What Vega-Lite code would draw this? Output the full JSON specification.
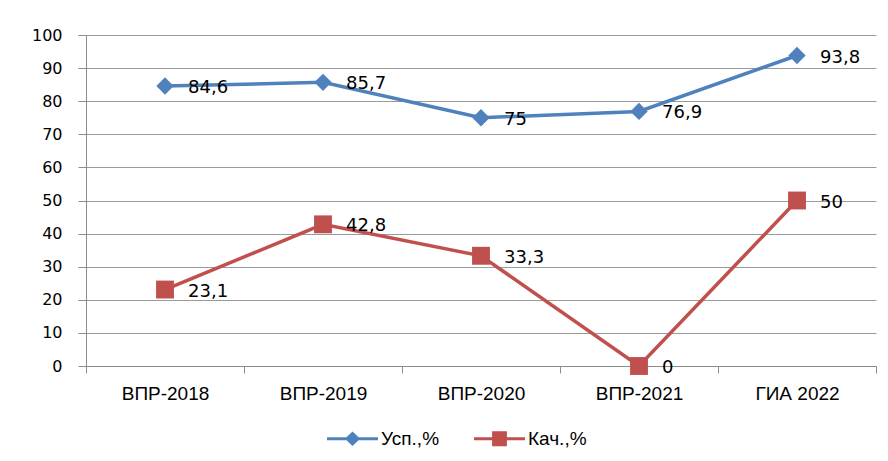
{
  "$schema": "https://vega.github.io/schema/vega-lite/v6.json",
  "autosize": {"type": "none"},
  "width": 790,
  "height": 331,
  "padding": {"left": 86, "top": 35, "right": 12, "bottom": 95},
  "background": "white",
  "data": {
    "values": [
      {"category": "ВПР-2018", "series": "Усп.,%", "value": 84.6, "label": "84,6"},
      {"category": "ВПР-2019", "series": "Усп.,%", "value": 85.7, "label": "85,7"},
      {"category": "ВПР-2020", "series": "Усп.,%", "value": 75, "label": "75"},
      {"category": "ВПР-2021", "series": "Усп.,%", "value": 76.9, "label": "76,9"},
      {"category": "ГИА 2022", "series": "Усп.,%", "value": 93.8, "label": "93,8"},
      {"category": "ВПР-2018", "series": "Кач.,%", "value": 23.1, "label": "23,1"},
      {"category": "ВПР-2019", "series": "Кач.,%", "value": 42.8, "label": "42,8"},
      {"category": "ВПР-2020", "series": "Кач.,%", "value": 33.3, "label": "33,3"},
      {"category": "ВПР-2021", "series": "Кач.,%", "value": 0, "label": "0"},
      {"category": "ГИА 2022", "series": "Кач.,%", "value": 50, "label": "50"}
    ]
  },
  "encoding": {
    "x": {
      "field": "category", "type": "nominal", "sort": null,
      "scale": {"paddingInner": 0, "paddingOuter": 0},
      "axis": {
        "title": null, "labelAngle": 0, "grid": false,
        "domainColor": "#8C8C8C", "tickColor": "#8C8C8C", "tickSize": 7,
        "tickBand": "extent", "labelFont": "Liberation Sans",
        "labelFontSize": 19, "labelColor": "#000000", "labelPadding": 11
      }
    },
    "y": {
      "field": "value", "type": "quantitative",
      "scale": {"domain": [0, 100], "nice": false, "zero": true},
      "axis": {
        "title": null, "values": [0,10,20,30,40,50,60,70,80,90,100],
        "gridColor": "#9A9A9A", "gridWidth": 1, "domainColor": "#8C8C8C",
        "tickColor": "#8C8C8C", "tickSize": 8, "labelFont": "DejaVu Sans",
        "labelFontSize": 16, "labelColor": "#000000", "labelPadding": 16
      }
    }
  },
  "layer": [
    {
      "mark": {"type": "line", "strokeWidth": 3.5},
      "encoding": {
        "color": {
          "field": "series", "type": "nominal",
          "scale": {"domain": ["Усп.,%", "Кач.,%"], "range": ["#4F81BD", "#C0504D"]},
          "legend": {
            "title": null, "orient": "none", "direction": "horizontal",
            "legendX": 241, "legendY": 378, "padding": 0,
            "labelFont": "Liberation Sans", "labelFontSize": 19,
            "labelColor": "#000000", "symbolSize": 2601, "columnPadding": 34, "labelOffset": 3,
            "encode": {
              "symbols": {
                "update": {
                  "shape": {"signal": "datum.value == 'Усп.,%' ? 'M-1,-0.06L1,-0.06L1,0.06L-1,0.06Z M0,-0.28L0.3,0L0,0.28L-0.3,0Z' : 'M-1,-0.06L1,-0.06L1,0.06L-1,0.06Z M-0.29,-0.29L0.29,-0.29L0.29,0.29L-0.29,0.29Z'"},
                  "fill": {"scale": "color", "field": "value"},
                  "strokeWidth": {"value": 0},
                  "fillOpacity": {"value": 1},
                  "opacity": {"value": 1}
                }
              }
            }
          }
        }
      }
    },
    {
      "transform": [{"filter": "datum.series == 'Усп.,%'"}],
      "mark": {"type": "point", "filled": true, "opacity": 1, "size": 300, "shape": "diamond", "color": "#4F81BD"}
    },
    {
      "transform": [{"filter": "datum.series == 'Кач.,%'"}],
      "mark": {"type": "point", "filled": true, "opacity": 1, "size": 320, "shape": "square", "color": "#C0504D"}
    },
    {
      "mark": {"type": "text", "align": "left", "baseline": "middle", "dx": 23, "dy": 2, "font": "DejaVu Sans", "fontSize": 18, "color": "#000000"},
      "encoding": {
        "text": {"field": "label"}
      }
    }
  ],
  "config": {
    "view": {"stroke": null}
  }
}
